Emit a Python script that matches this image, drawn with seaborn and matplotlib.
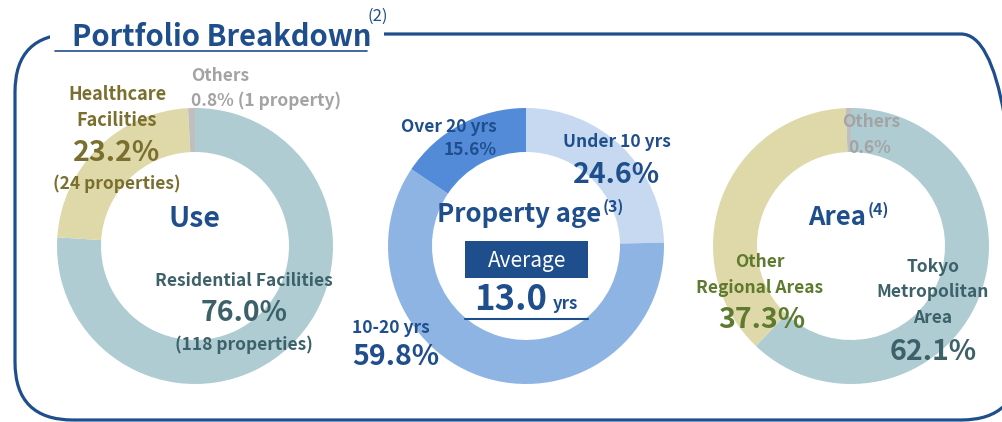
import matplotlib
matplotlib.use("Agg")
import matplotlib.pyplot as plt
from matplotlib.patches import FancyBboxPatch, Rectangle
import seaborn as sns

# --- dane ---
use_labels = ["Residential Facilities", "Healthcare Facilities", "Others"]
use_share = [76.0, 23.2, 0.8]
use_count = [118, 24, 1]

age_labels = ["Under 10 yrs", "10-20 yrs", "Over 20 yrs"]
age_share = [24.6, 59.8, 15.6]
avg_age = 13.0

area_labels = ["Tokyo Metropolitan Area", "Other Regional Areas", "Others"]
area_share = [62.1, 37.3, 0.6]

# kolory
use_colors = ["#AECCD2", "#DFD9A9", "#BFBFBF"]
age_colors = ["#C6D9F1", "#8EB4E3", "#538BD8"]
area_colors = ["#AECCD2", "#DFD9A9", "#BFBFBF"]

BLUE = "#1F4E8C"
OLIVE = "#7A6F2E"
TEAL = "#3D6169"
GREY = "#A3A3A3"
GREEN = "#5E7A2E"

sns.set_theme(style="white")
plt.rcParams['font.family'] = ['Noto Sans CJK JP', 'DejaVu Sans']

W, H = 1003, 422
fig = plt.figure(figsize=(W / 100, H / 100), dpi=100)
ax = fig.add_axes([0, 0, 1, 1])


def Y(y):
    return H - y


def donut(values, colors, cx, cy):
    ax.pie(values, colors=colors, startangle=90, counterclock=False,
           radius=138, center=(cx, Y(cy)), frame=True,
           wedgeprops=dict(width=44, edgecolor="none", linewidth=0))


def txt(x, y, s, size, color, weight="bold", ha="center", **kw):
    return ax.text(x, Y(y), s, fontsize=size, color=color, fontweight=weight,
                   ha=ha, va="center", **kw)


def sup(artist, s, size, color, weight="bold"):
    ax.annotate(s, xy=(1.0, 0.8), xycoords=artist, xytext=(1, 0),
                textcoords="offset points", fontsize=size, color=color,
                fontweight=weight, ha="left", va="center")


# ramka (prawa krawedz tuz poza obrazem)
frame = FancyBboxPatch((15, Y(420)), 1019 - 15, 420 - 34,
                       boxstyle="round,pad=0,rounding_size=58",
                       fill=False, ec=BLUE, lw=2.3, zorder=1)
ax.add_patch(frame)
ax.add_patch(Rectangle((50, Y(46)), 334, 22, fc="white", ec="none", zorder=2))

t = txt(72, 37, "Portfolio Breakdown", 21, BLUE, ha="left", zorder=3)
ax.plot([55, 367], [Y(51), Y(51)], color=BLUE, lw=1.2, zorder=3)
txt(368, 16, "(2)", 12, BLUE, weight="normal", ha="left", zorder=3)

# --- Use ---
donut(use_share, use_colors, 195, 246)
txt(191, 76, "Others", 12.5, GREY, ha="left")
txt(191, 101, f"{use_share[2]:.1f}% ({use_count[2]} property)", 12.5, GREY, ha="left")
txt(117, 95, "Healthcare", 13, OLIVE)
txt(117, 120, "Facilities", 13, OLIVE)
txt(117, 153, f"{use_share[1]:.1f}%", 20.5, OLIVE)
txt(117, 184, f"({use_count[1]} properties)", 12.5, OLIVE)
txt(195, 219, "Use", 20.5, BLUE)
txt(244, 281, use_labels[0], 12.5, TEAL)
txt(244, 313, f"{use_share[0]:.1f}%", 20.5, TEAL)
txt(244, 345, f"({use_count[0]} properties)", 12.5, TEAL)

# --- Property age ---
donut(age_share, age_colors, 526, 246)
txt(497, 127, age_labels[2], 12.5, BLUE, ha="right")
txt(497, 150, f"{age_share[2]:.1f}%", 12.5, BLUE, ha="right")
txt(617, 142, age_labels[0], 12.5, BLUE)
txt(617, 175, f"{age_share[0]:.1f}%", 20.5, BLUE)
txt(352, 328, age_labels[1], 12.5, BLUE, ha="left")
txt(352, 357, f"{age_share[1]:.1f}%", 20.5, BLUE, ha="left")
pa = txt(519, 215, "Property age", 18.5, BLUE)
sup(pa, "(3)", 11.5, BLUE)
ax.add_patch(Rectangle((465, Y(278)), 123, 37, fc=BLUE, ec="none"))
txt(527, 261, "Average", 15, "white", weight="normal")
avg = txt(547, 299, f"{avg_age:.1f}", 25, BLUE, ha="right")
ax.annotate("yrs", xy=(1.0, 0.22), xycoords=avg, xytext=(4, 0),
            textcoords="offset points", fontsize=12, color=BLUE,
            fontweight="bold", ha="left", va="baseline")
ax.plot([465, 588], [Y(319), Y(319)], color=BLUE, lw=1.5)

# --- Area ---
donut(area_share, area_colors, 851, 246)
txt(871, 122, "Others", 12.5, GREY)
txt(870, 148, f"{area_share[2]:.1f}%", 12.5, GREY)
ar = txt(837, 218, "Area", 18.5, BLUE)
sup(ar, "(4)", 11.5, BLUE)
txt(760, 262, "Other", 12.5, GREEN)
txt(760, 288, "Regional Areas", 12.5, GREEN)
txt(762, 320, f"{area_share[1]:.1f}%", 20.5, GREEN)
txt(933, 267, "Tokyo", 12.5, TEAL)
txt(933, 292, "Metropolitan", 12.5, TEAL)
txt(933, 318, "Area", 12.5, TEAL)
txt(933, 352, f"{area_share[0]:.1f}%", 20.5, TEAL)

ax.set_xlim(0, W)
ax.set_ylim(0, H)
ax.set_aspect("equal")
ax.axis("off")
fig.savefig("out.png", dpi=100)
